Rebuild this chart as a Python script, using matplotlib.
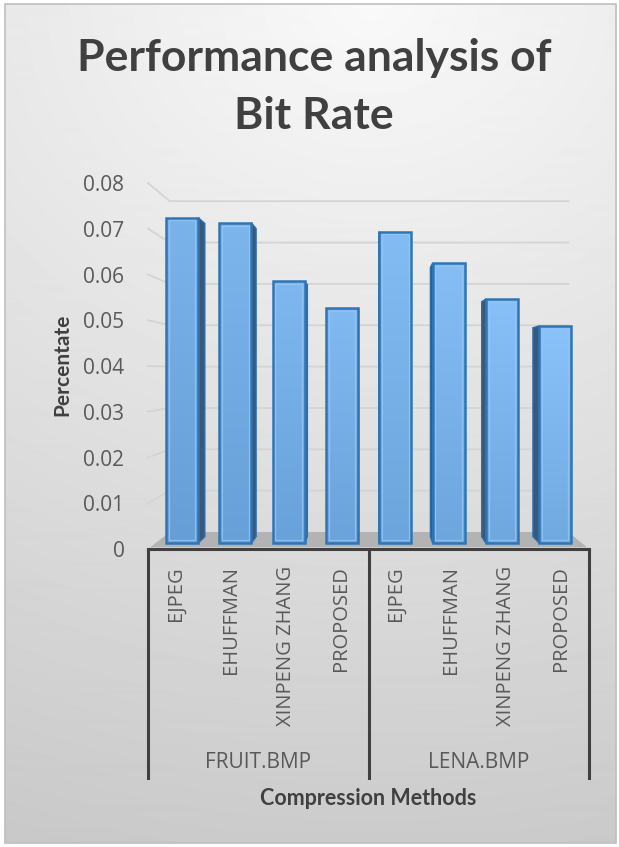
import numpy as np
import matplotlib
matplotlib.use('Agg')
import matplotlib.pyplot as plt
from matplotlib.patches import Polygon, Rectangle

# data
groups = ['FRUIT.BMP', 'LENA.BMP']
methods = ['EJPEG', 'EHUFFMAN', 'XINPENG ZHANG', 'PROPOSED']
fruit_rate = [0.0736, 0.0724, 0.0592, 0.0532]
lena_rate = [0.0704, 0.0633, 0.0552, 0.0491]
yticks = [0, 0.01, 0.02, 0.03, 0.04, 0.05, 0.06, 0.07, 0.08]
ytick_labels = ['0', '0.01', '0.02', '0.03', '0.04', '0.05', '0.06', '0.07', '0.08']

W, H = 619, 847
TXT = '#595959'
DARK = '#404040'

# fake 3d: everything shrinks toward a vanishing point with depth
XV, YV = 3.6, 0.0386
S_FRONT, S_BACK, S_WALL, S_FLOOR = 0.967, 0.93, 0.904, 0.99


def proj(x, y, s):
    return XV + (np.asarray(x) - XV) * s, YV + (np.asarray(y) - YV) * s


def px(x, y):
    # pixel box (from top-left) -> figure fraction
    return x / W, 1 - y / H


fig = plt.figure(figsize=(W / 100, H / 100), dpi=100, facecolor='white')

# background gradient inside the chart border
bg = fig.add_axes([5 / W, 4 / H, 611 / W, 839 / H], zorder=-1)
yy, xx = np.mgrid[0:839, 0:611]
r = np.hypot((xx - 0.6 * 611) / 1000, yy / 839)
shade = np.clip(249 - 46 * r, 190, 250) / 255.0
bg.imshow(shade, cmap='gray', vmin=0, vmax=1, aspect='auto', interpolation='bilinear')
bg.axis('off')
fig.patches.append(Rectangle((5 / W, 4 / H), 611 / W, 839 / H, transform=fig.transFigure,
                             fill=False, edgecolor='#bfbfbf', linewidth=1.2))

# main plot area: x axis line at y=549px, 0.08 at 183px, from x=148 to 589
ax = fig.add_axes([148 / W, 1 - 549 / H, 441 / W, 366 / H])
ax.set_facecolor('none')

values = fruit_rate + lena_rate
labels = methods * len(groups)
pos = np.arange(len(values))
bw = 0.6
n = len(values)

# back wall gridlines + left wall diagonals
wx0, _ = proj(-0.5, 0, S_WALL)
wx1, _ = proj(n - 0.5, 0, S_WALL)
for t in yticks[1:]:
    _, wy = proj(0, t, S_WALL)
    ax.plot([-0.5, wx0, wx1], [t, wy, wy], color='#d4d4d4', lw=1.3, zorder=1, clip_on=False)

# floor
fl = [proj(-0.5, 0, S_FLOOR), proj(n - 0.5, 0, S_FLOOR), proj(n - 0.5, 0, S_WALL), proj(-0.5, 0, S_WALL)]
ax.add_patch(Polygon([(float(a), float(b)) for a, b in fl], closed=True, facecolor='#b3b3b3',
                     edgecolor='none', zorder=1.5, clip_on=False))

# side faces of the columns
for i, v in enumerate(values):
    xe = i + bw / 2 if i < XV else i - bw / 2
    pts = [proj(xe, 0, S_FRONT), proj(xe, v, S_FRONT), proj(xe, v, S_BACK), proj(xe, 0, S_BACK)]
    ax.add_patch(Polygon([(float(a), float(b)) for a, b in pts], closed=True, facecolor='#38597a',
                         edgecolor='#2e6eab', linewidth=1.0, zorder=2, clip_on=False))

# front faces
fx, fy0 = proj(pos, 0, S_FRONT)
heights = np.array(values) * S_FRONT
bars = ax.bar(fx, heights, width=bw * S_FRONT, bottom=fy0, facecolor='none',
              edgecolor='#2f75b5', linewidth=1.8, zorder=4, clip_on=False)

grad = np.linspace(0, 1, 64).reshape(-1, 1)
for i, b in enumerate(bars):
    k = i / (n - 1)
    top = np.array([0.48, 0.70, 0.92]) + 0.06 * k
    bot = np.array([0.40, 0.62, 0.84]) + 0.04 * k
    img = bot + (top - bot) * grad[:, :, None]
    img = np.clip(img, 0, 1)
    x0, y0 = b.get_x(), b.get_y()
    bwid, bh = b.get_width(), b.get_height()
    im = ax.imshow(img, extent=(x0, x0 + bwid, y0, y0 + bh), origin='lower',
                   aspect='auto', zorder=3, interpolation='bilinear')
    im.set_clip_path(b)
    ax.add_patch(Rectangle((x0 + 0.05, y0 + 0.0006), bwid - 0.1, bh - 0.0012, fill=False,
                           edgecolor='#96c6f2', linewidth=0.9, alpha=0.8, zorder=4.5))

ax.set_xlim(-0.5, n - 0.5)
ax.set_ylim(0, 0.08)

for s in ['top', 'right', 'left']:
    ax.spines[s].set_visible(False)
ax.spines['bottom'].set_color(DARK)
ax.spines['bottom'].set_linewidth(2.2)
ax.spines['bottom'].set_zorder(5)

ax.set_xticks([])
ax.set_yticks(yticks)
ax.set_yticklabels(ytick_labels, fontsize=15, color=TXT, family='Open Sans')
ax.tick_params(axis='y', length=0, pad=17)

# category labels, group separators
tr = ax.get_xaxis_transform()
for i, lab in enumerate(labels):
    ax.text(i, -17 / 366, lab, rotation=90, ha='center', va='top', transform=tr,
            fontsize=14.5, color=TXT, family='Open Sans')
for g in range(len(groups) + 1):
    ax.plot([g * len(methods) - 0.5] * 2, [0, -229 / 366], transform=tr, color=DARK,
            lw=2.2, clip_on=False, zorder=5)
for g, name in enumerate(groups):
    ax.text(g * len(methods) + (len(methods) - 1) / 2, -213 / 366, name, ha='center', va='center',
            transform=tr, fontsize=15, color=TXT, family='Open Sans')

ax.text(0.5, -249 / 366, 'Compression Methods', transform=ax.transAxes, ha='center', va='center',
        fontsize=15.5, fontweight='bold', color=DARK, family='Lato')
fig.text(*px(62, 365), 'Percentate', rotation=90, ha='center', va='center',
         fontsize=15, fontweight='bold', color=DARK, family='Lato')

fig.text(*px(314, 71), 'Performance analysis of', ha='center', va='baseline',
         fontsize=32, fontweight='bold', color=DARK, family='Lato')
fig.text(*px(314, 129), 'Bit Rate', ha='center', va='baseline',
         fontsize=32, fontweight='bold', color=DARK, family='Lato')

fig.savefig('out.png', dpi=100, facecolor='white')
